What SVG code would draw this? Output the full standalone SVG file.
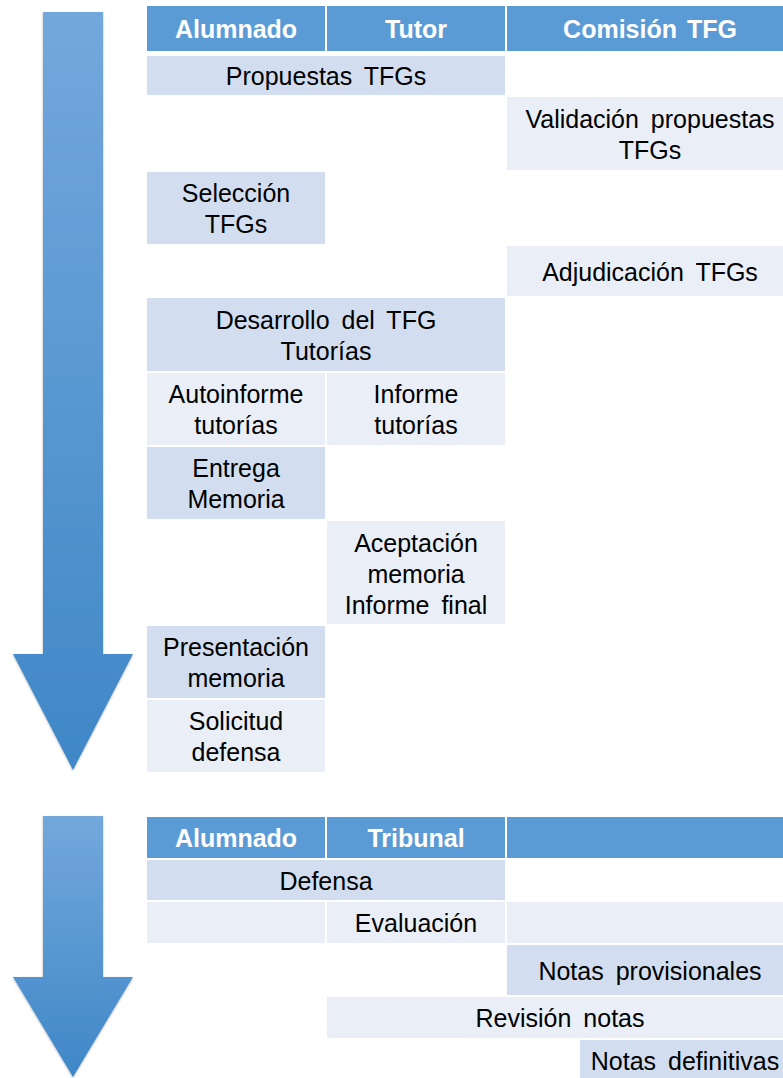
<svg xmlns="http://www.w3.org/2000/svg" width="783" height="1078" viewBox="0 0 783 1078">
<style>
.h{fill:#5B9BD5}
.d{fill:#D2DEEF}
.l{fill:#E9EEF7}
.t{font-family:"Liberation Sans",Arial,sans-serif;font-size:25px;fill:#000;text-anchor:middle;word-spacing:5px}
.ht{font-family:"Liberation Sans",Arial,sans-serif;font-size:25px;font-weight:bold;fill:#fff;text-anchor:middle;word-spacing:3px}
</style>
<defs>
<linearGradient id="ag" x1="0" y1="0" x2="0" y2="1">
<stop offset="0" stop-color="#73A8DC"/>
<stop offset="1" stop-color="#3F87C7"/>
</linearGradient>
<filter id="sh" x="-20%" y="-5%" width="140%" height="110%">
<feDropShadow dx="0" dy="1" stdDeviation="1.2" flood-color="#000" flood-opacity="0.3"/>
</filter>
</defs>
<g id="arrow1"><path d="M43,12 H103 V654 H133 L73,770 L13,654 H43 Z" fill="url(#ag)" filter="url(#sh)"/></g>
<g id="arrow2"><path d="M43,816 H103 V977 H133 L73,1077 L13,977 H43 Z" fill="url(#ag)" filter="url(#sh)"/></g>
<g id="table1">
<g id="h-alumnado"><rect class="h" x="147" y="6" width="178" height="45"/><text class="ht" x="236" y="38">Alumnado</text></g>
<g id="h-tutor"><rect class="h" x="327" y="6" width="178" height="45"/><text class="ht" x="416" y="38">Tutor</text></g>
<g id="h-comision"><rect class="h" x="507" y="6" width="286" height="45"/><text class="ht" x="650" y="38">Comisión TFG</text></g>
<g id="propuestas"><rect class="d" x="147" y="56" width="358" height="39"/><text class="t" x="326" y="85">Propuestas TFGs</text></g>
<g id="validacion"><rect class="l" x="507" y="97" width="286" height="73"/><text class="t" x="650" y="127.5">Validación propuestas</text><text class="t" x="650" y="158.5">TFGs</text></g>
<g id="seleccion"><rect class="d" x="147" y="172" width="178" height="72"/><text class="t" x="236" y="202">Selección</text><text class="t" x="236" y="233">TFGs</text></g>
<g id="adjudicacion"><rect class="l" x="507" y="246" width="286" height="50"/><text class="t" x="650" y="281">Adjudicación TFGs</text></g>
<g id="desarrollo"><rect class="d" x="147" y="298" width="358" height="73"/><text class="t" x="326" y="329">Desarrollo del TFG</text><text class="t" x="326" y="360">Tutorías</text></g>
<g id="autoinforme"><rect class="l" x="147" y="373" width="178" height="72"/><text class="t" x="236" y="403">Autoinforme</text><text class="t" x="236" y="434">tutorías</text></g>
<g id="informe"><rect class="l" x="327" y="373" width="178" height="72"/><text class="t" x="416" y="403">Informe</text><text class="t" x="416" y="434">tutorías</text></g>
<g id="entrega"><rect class="d" x="147" y="447" width="178" height="72"/><text class="t" x="236" y="477">Entrega</text><text class="t" x="236" y="508">Memoria</text></g>
<g id="aceptacion"><rect class="l" x="327" y="521" width="178" height="103"/><text class="t" x="416" y="551.5">Aceptación</text><text class="t" x="416" y="582.5">memoria</text><text class="t" x="416" y="613.5">Informe final</text></g>
<g id="presentacion"><rect class="d" x="147" y="626" width="178" height="72"/><text class="t" x="236" y="656">Presentación</text><text class="t" x="236" y="687">memoria</text></g>
<g id="solicitud"><rect class="l" x="147" y="700" width="178" height="72"/><text class="t" x="236" y="730">Solicitud</text><text class="t" x="236" y="761">defensa</text></g>
</g>
<g id="table2">
<g id="h2-alumnado"><rect class="h" x="147" y="817" width="178" height="41"/><text class="ht" x="236" y="846.5">Alumnado</text></g>
<g id="h2-tribunal"><rect class="h" x="327" y="817" width="178" height="41"/><text class="ht" x="416" y="846.5">Tribunal</text></g>
<g id="h2-empty"><rect class="h" x="507" y="817" width="286" height="41"/></g>
<g id="defensa"><rect class="d" x="147" y="860" width="358" height="40"/><text class="t" x="326" y="890">Defensa</text></g>
<g id="eval-empty1"><rect class="l" x="147" y="902" width="178" height="41"/></g>
<g id="evaluacion"><rect class="l" x="327" y="902" width="178" height="41"/><text class="t" x="416" y="932">Evaluación</text></g>
<g id="eval-empty3"><rect class="l" x="507" y="902" width="286" height="41"/></g>
<g id="notas-prov"><rect class="d" x="507" y="945" width="286" height="50"/><text class="t" x="650" y="980">Notas provisionales</text></g>
<g id="revision"><rect class="l" x="327" y="997" width="466" height="41"/><text class="t" x="560" y="1027">Revisión notas</text></g>
<g id="notas-def"><rect class="d" x="580" y="1040" width="210" height="38"/><text class="t" x="685" y="1070">Notas definitivas</text></g>
</g>
<g id="connectors"/>
</svg>
